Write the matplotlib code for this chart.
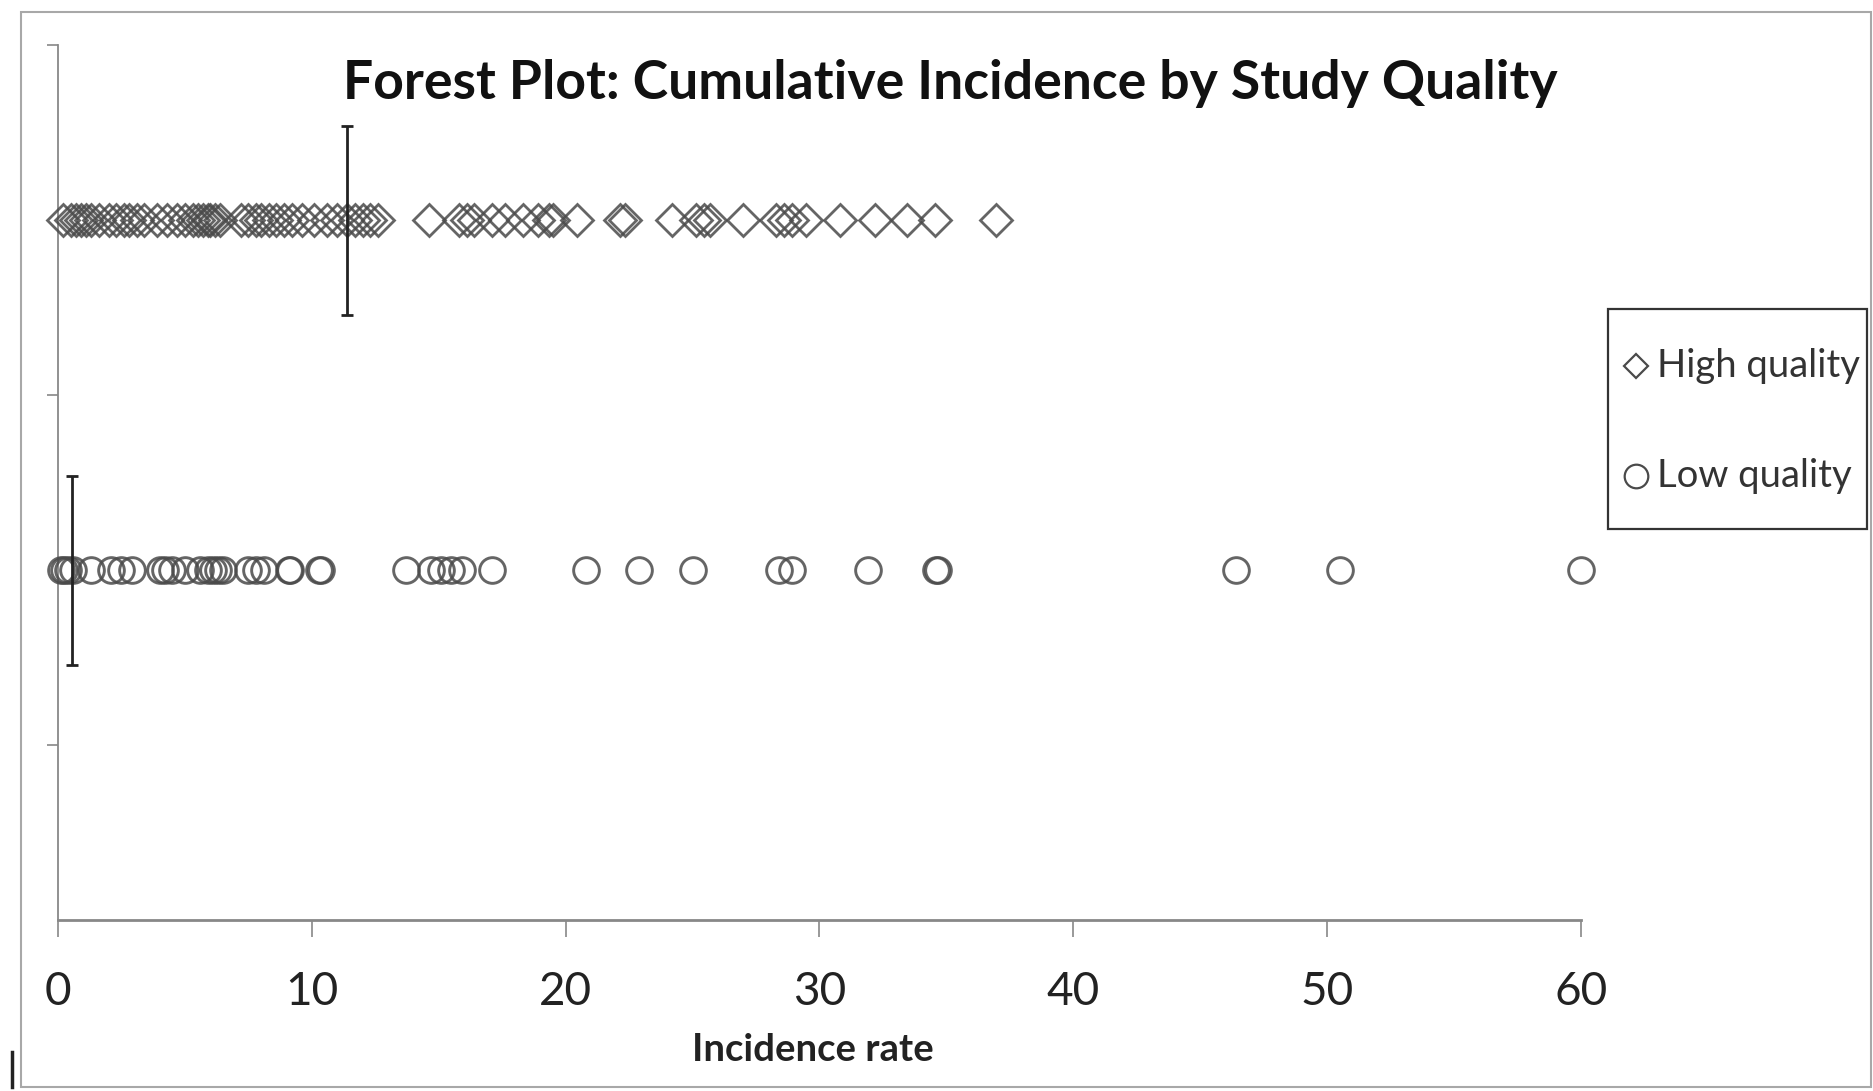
import matplotlib
matplotlib.use("Agg")
import matplotlib.pyplot as plt
from matplotlib.lines import Line2D
from matplotlib.patches import Rectangle

plt.rcParams['font.family'] = ['Lato', 'DejaVu Sans']

# ---- data ----
high_quality = [0.2, 0.5, 0.7, 0.9, 1.1, 1.3, 1.6,
                2.0, 2.3, 2.6, 2.8, 3.1, 3.4,
                3.9, 4.3, 4.7,
                5.0, 5.3, 5.5, 5.7, 5.9, 6.0, 6.2, 6.4,
                7.2, 7.5, 7.8, 8.0, 8.3, 8.6, 8.9, 9.2,
                9.6, 10.1,
                10.6, 11.0, 11.4, 11.7, 12.0, 12.3, 12.6,
                14.6, 15.8, 16.1, 16.4, 17.1, 17.6, 18.3, 18.9, 19.35, 19.5,
                20.45, 22.15, 22.35, 24.2, 25.15, 25.45, 25.7, 27.0, 28.3,
                28.6, 28.9, 29.45, 30.8, 32.2, 33.45, 34.55, 36.95]
low_quality = [0.1, 0.25, 0.4, 0.6, 1.3, 2.1, 2.5, 2.9, 4.0, 4.2, 4.5, 5.0,
               5.6, 5.9, 6.1, 6.3, 6.5, 7.5, 7.8, 8.1, 9.1, 9.15, 10.3, 10.35,
               13.7, 14.7, 15.1, 15.5, 15.9, 17.1, 20.8, 22.9, 25.0, 28.4,
               28.9, 31.9, 34.6, 34.65, 46.4, 50.5, 60.0]
group_names = ["High quality", "Low quality"]
group_markers = ['D', 'o']
group_rows = [2, 1]
pooled = [11.4, 0.55]
bar_half_height = [0.27, 0.27]
x_ticks = [0, 10, 20, 30, 40, 50, 60]
y_ticks = [0.5, 1.5, 2.5]

W, H = 1874, 1091
fig = plt.figure(figsize=(W / 100, H / 100), dpi=100)
ax = fig.add_axes([58 / W, 1 - 920 / H, (1581 - 58) / W, (920 - 45) / H])

edge = '#4a4a4a'
ax.plot(high_quality, [group_rows[0]] * len(high_quality), linestyle='none',
        marker=group_markers[0], ms=16.5, mfc='none', mec=edge, mew=2.0, alpha=0.85, clip_on=False)
ax.plot(low_quality, [group_rows[1]] * len(low_quality), linestyle='none',
        marker=group_markers[1], ms=18.5, mfc='none', mec=edge, mew=2.1, alpha=0.85, clip_on=False)

# pooled estimate bars
for p, r, h in zip(pooled, group_rows, bar_half_height):
    ax.errorbar([p], [r], yerr=[h], fmt='none', ecolor='#222222',
                elinewidth=2.0, capsize=4, capthick=2.0, clip_on=False)

ax.set_xlim(0, 60)
ax.set_ylim(0, 2.5)
ax.set_xticks(x_ticks)
ax.set_xticklabels([str(t) for t in x_ticks], fontsize=33, color='#222222')
ax.set_yticks(y_ticks)
ax.set_yticklabels([])
ax.tick_params(axis='x', direction='out', length=12, width=1.2, color='#888888', pad=25)
ax.tick_params(axis='y', direction='out', length=8, width=1.2, color='#888888')
for s in ['top', 'right']:
    ax.spines[s].set_visible(False)
ax.spines['left'].set_color('#888888')
ax.spines['left'].set_linewidth(1.3)
ax.spines['bottom'].set_color('#888888')
ax.spines['bottom'].set_linewidth(2.0)
ax.spines['left'].set_zorder(0.5)

# axis title
fig.text(813 / W, 1 - 1050 / H, "Incidence rate", ha='center', va='center',
         fontsize=27.5, fontweight='bold', color='#222222')

fig.text(950 / W, 1 - 83 / H, "Forest Plot: Cumulative Incidence by Study Quality",
         ha='center', va='center', fontsize=38.5, fontweight='bold', color='#111111')

# legend box (drawn by hand to match the tight right padding)
fig.patches.append(Rectangle((1608 / W, 1 - 529 / H), (1867 - 1608) / W, (529 - 309) / H,
                             transform=fig.transFigure, fill=False,
                             edgecolor='#333333', linewidth=1.6))
legend_rows_px = [366, 476]
legend_ms = [12, 17]
for name, mk, ypx, ms in zip(group_names, group_markers, legend_rows_px, legend_ms):
    fig.add_artist(Line2D([1636 / W], [1 - ypx / H], transform=fig.transFigure,
                          linestyle='none', marker=mk, ms=ms, mfc='none', mec=edge, mew=1.6))
    fig.text(1657 / W, 1 - ypx / H, name, ha='left', va='center',
             fontsize=27.5, color='#333333')

# outer chart-area border
fig.patches.append(Rectangle((21 / W, 1 - 1087 / H), (1871 - 21) / W, (1087 - 12) / H,
                             transform=fig.transFigure, fill=False,
                             edgecolor='#a8a8a8', linewidth=1.5))
# small dark edge mark at the lower-left corner
fig.add_artist(Line2D([12 / W, 12 / W], [1 - 1052 / H, 1 - 1087 / H],
                      transform=fig.transFigure, color='#222222', linewidth=2.5))

fig.savefig("out.png", dpi=100)
